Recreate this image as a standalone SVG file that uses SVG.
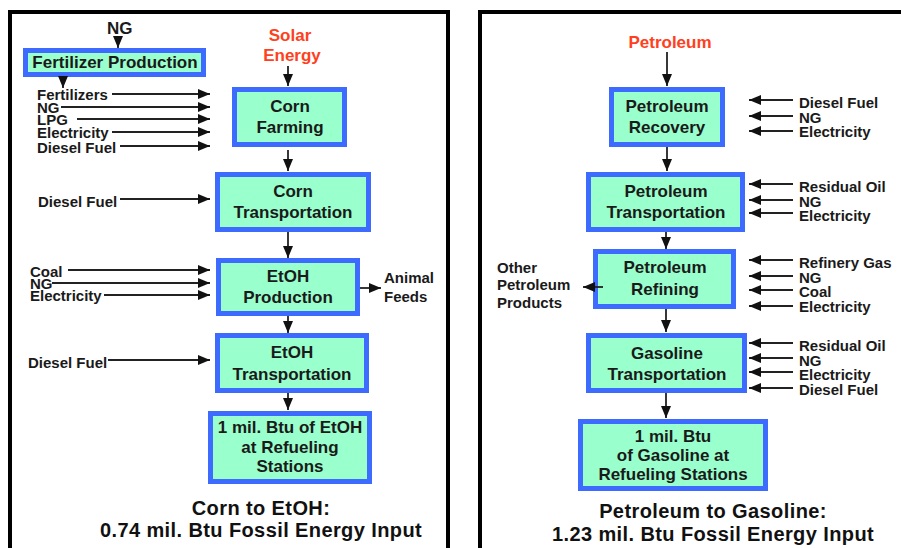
<svg xmlns="http://www.w3.org/2000/svg" width="901" height="548" viewBox="0 0 901 548">
<defs>
<marker id="ah" viewBox="0 0 12 10" refX="12" refY="5" markerWidth="12" markerHeight="10" markerUnits="userSpaceOnUse" orient="auto">
<path d="M0,0 L12,5 L0,10 z" fill="#111"/>
</marker>
<style>
.frame{fill:none;stroke:#000;stroke-width:4}
.box{fill:#99FFCC;stroke:#3D6BFF;stroke-width:5}
.bt{font-family:"Liberation Sans",Arial,sans-serif;font-size:17px;font-weight:bold;fill:#1a1a1a;text-anchor:middle}
.lb{font-family:"Liberation Sans",Arial,sans-serif;font-size:15px;font-weight:bold;fill:#1a1a1a}
.red{font-family:"Liberation Sans",Arial,sans-serif;font-size:17px;font-weight:bold;fill:#FF4020;text-anchor:middle}
.cap{font-family:"Liberation Sans",Arial,sans-serif;font-size:20px;font-weight:bold;letter-spacing:0.4px;fill:#111;text-anchor:middle}
.c{fill:none;stroke:#222;stroke-width:1.8;marker-end:url(#ah)}
</style>
</defs>
<rect width="901" height="548" fill="#fff"/>
<rect class="frame" x="10" y="12" width="438" height="570"/>
<rect class="frame" x="480" y="12" width="440" height="570"/>

<g id="left-texts">
<text class="lb" x="107" y="34" style="font-size:17px">NG</text>
<text class="red" x="290" y="41">Solar</text>
<text class="red" x="292" y="61">Energy</text>
<text class="lb" x="37" y="100">Fertilizers</text>
<text class="lb" x="37" y="113">NG</text>
<text class="lb" x="37" y="125">LPG</text>
<text class="lb" x="37" y="138">Electricity</text>
<text class="lb" x="37" y="153">Diesel Fuel</text>
<text class="lb" x="38" y="207">Diesel Fuel</text>
<text class="lb" x="30" y="277">Coal</text>
<text class="lb" x="30" y="289">NG</text>
<text class="lb" x="30" y="301">Electricity</text>
<text class="lb" x="28" y="368">Diesel Fuel</text>
<text class="lb" x="384" y="283">Animal</text>
<text class="lb" x="384" y="302">Feeds</text>
<text class="cap" x="261" y="515">Corn to EtOH:</text>
<text class="cap" x="261" y="537">0.74 mil. Btu Fossil Energy Input</text>
</g>

<g id="fertilizer-production">
<rect class="box" x="25.5" y="50.5" width="178" height="24"/>
<text class="bt" x="115" y="68">Fertilizer Production</text>
</g>
<g id="corn-farming">
<rect class="box" x="234.5" y="89.5" width="110" height="55"/>
<text class="bt" x="290" y="112">Corn</text>
<text class="bt" x="290" y="133">Farming</text>
</g>
<g id="corn-transportation">
<rect class="box" x="217.5" y="174.5" width="151" height="55"/>
<text class="bt" x="293" y="197">Corn</text>
<text class="bt" x="293" y="218">Transportation</text>
</g>
<g id="etoh-production">
<rect class="box" x="218.5" y="260.5" width="139" height="53"/>
<text class="bt" x="288" y="282">EtOH</text>
<text class="bt" x="288" y="303">Production</text>
</g>
<g id="etoh-transportation">
<rect class="box" x="217.5" y="335.5" width="149" height="55"/>
<text class="bt" x="292" y="358">EtOH</text>
<text class="bt" x="292" y="380">Transportation</text>
</g>
<g id="etoh-station">
<rect class="box" x="210.5" y="413.5" width="159" height="68"/>
<text class="bt" x="290" y="433">1 mil. Btu of EtOH</text>
<text class="bt" x="290" y="453">at Refueling</text>
<text class="bt" x="290" y="472">Stations</text>
</g>

<g id="right-texts">
<text class="red" x="670" y="48">Petroleum</text>
<text class="lb" x="799" y="108">Diesel Fuel</text>
<text class="lb" x="799" y="123">NG</text>
<text class="lb" x="799" y="137">Electricity</text>
<text class="lb" x="799" y="192">Residual Oil</text>
<text class="lb" x="799" y="207">NG</text>
<text class="lb" x="799" y="221">Electricity</text>
<text class="lb" x="799" y="268">Refinery Gas</text>
<text class="lb" x="799" y="283">NG</text>
<text class="lb" x="799" y="297">Coal</text>
<text class="lb" x="799" y="312">Electricity</text>
<text class="lb" x="799" y="351">Residual Oil</text>
<text class="lb" x="799" y="366">NG</text>
<text class="lb" x="799" y="380">Electricity</text>
<text class="lb" x="799" y="395">Diesel Fuel</text>
<text class="lb" x="497" y="273">Other</text>
<text class="lb" x="497" y="290">Petroleum</text>
<text class="lb" x="497" y="308">Products</text>
<text class="cap" x="713" y="518">Petroleum to Gasoline:</text>
<text class="cap" x="713" y="541">1.23 mil. Btu Fossil Energy Input</text>
</g>

<g id="petroleum-recovery">
<rect class="box" x="611.5" y="89.5" width="111" height="55"/>
<text class="bt" x="667" y="112">Petroleum</text>
<text class="bt" x="667" y="133">Recovery</text>
</g>
<g id="petroleum-transportation">
<rect class="box" x="588.5" y="174.5" width="154" height="55"/>
<text class="bt" x="666" y="197">Petroleum</text>
<text class="bt" x="666" y="218">Transportation</text>
</g>
<g id="petroleum-refining">
<rect class="box" x="595.5" y="251.5" width="138" height="55"/>
<text class="bt" x="665" y="273">Petroleum</text>
<text class="bt" x="665" y="295">Refining</text>
</g>
<g id="gasoline-transportation">
<rect class="box" x="588.5" y="335.5" width="156" height="55"/>
<text class="bt" x="667" y="359">Gasoline</text>
<text class="bt" x="667" y="380">Transportation</text>
</g>
<g id="gasoline-station">
<rect class="box" x="580.5" y="421.5" width="185" height="67"/>
<text class="bt" x="673" y="442">1 mil. Btu</text>
<text class="bt" x="673" y="461">of Gasoline at</text>
<text class="bt" x="673" y="480">Refueling Stations</text>
</g>

<g id="connectors">
<path class="c" d="M118,37 V48"/>
<path class="c" d="M63,77 V88"/>
<path class="c" d="M288,66 V86"/>
<path class="c" d="M288,150 V171"/>
<path class="c" d="M288,232 V258"/>
<path class="c" d="M288,316 V333"/>
<path class="c" d="M288,393 V410"/>
<path class="c" d="M360,288 H381"/>
<path class="c" d="M112,94 H210"/>
<path class="c" d="M61,107 H210"/>
<path class="c" d="M77,119 H210"/>
<path class="c" d="M112,132 H210"/>
<path class="c" d="M120,146 H210"/>
<path class="c" d="M120,199 H210"/>
<path class="c" d="M68,270 H210"/>
<path class="c" d="M52,283 H210"/>
<path class="c" d="M104,295 H210"/>
<path class="c" d="M108,360 H210"/>

<path class="c" d="M667,52 V86"/>
<path class="c" d="M667,147 V171"/>
<path class="c" d="M666,232 V249"/>
<path class="c" d="M666,309 V332"/>
<path class="c" d="M666,393 V418"/>
<path class="c" d="M603,287 H583"/>
<path class="c" d="M793,100 H749"/>
<path class="c" d="M793,116 H749"/>
<path class="c" d="M793,131 H749"/>
<path class="c" d="M793,184 H749"/>
<path class="c" d="M793,200 H749"/>
<path class="c" d="M793,213 H749"/>
<path class="c" d="M793,260 H749"/>
<path class="c" d="M793,276 H749"/>
<path class="c" d="M793,290 H749"/>
<path class="c" d="M793,306 H749"/>
<path class="c" d="M793,343 H749"/>
<path class="c" d="M793,358 H749"/>
<path class="c" d="M793,372 H749"/>
<path class="c" d="M793,388 H749"/>
</g>
</svg>
